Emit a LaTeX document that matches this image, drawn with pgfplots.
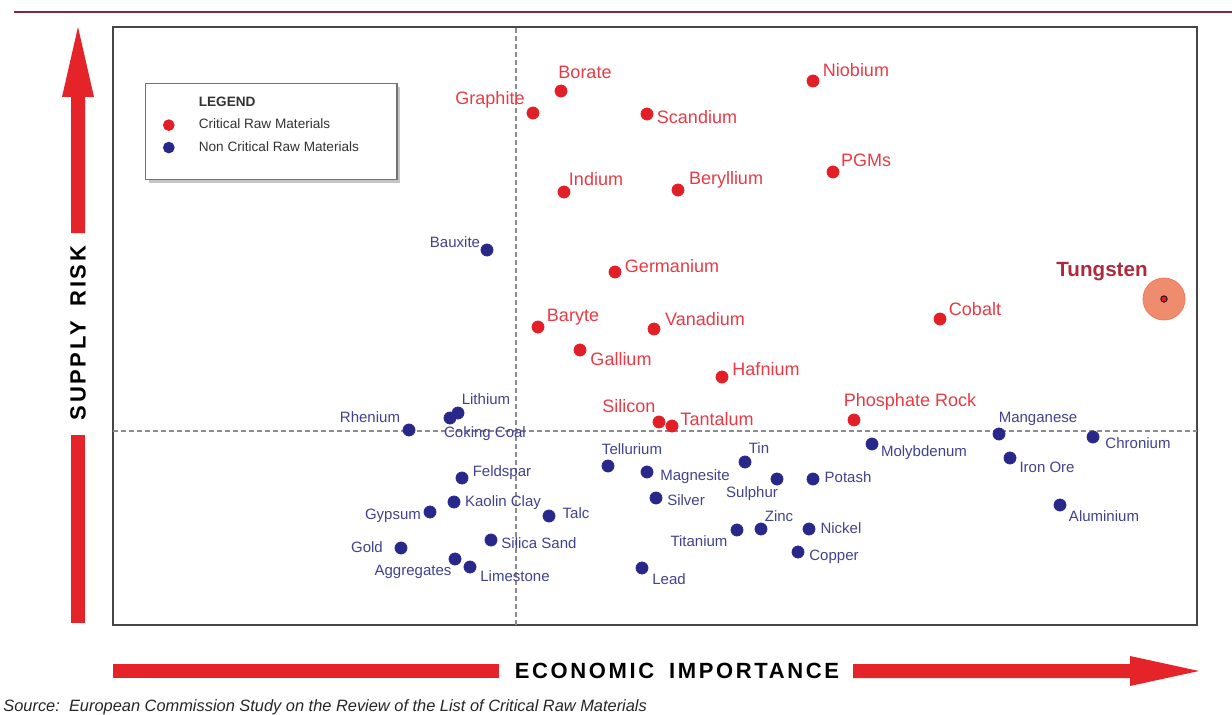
\documentclass[border=0pt]{standalone}
\usepackage{pgfplots}
\pgfplotsset{compat=1.18}
\usepackage{pgfplotstable}
\usepackage{fontspec}
\setmainfont{Liberation Sans}
\usetikzlibrary{shadows}

\definecolor{critred}{RGB}{226,30,38}
\definecolor{critlabel}{RGB}{232,58,68}
\definecolor{ncblue}{RGB}{40,40,138}
\definecolor{nclabel}{RGB}{64,66,142}
\definecolor{tungring}{RGB}{240,140,110}
\definecolor{tunglabel}{RGB}{172,42,62}
\definecolor{arrowred}{RGB}{228,36,40}
\definecolor{rulecol}{RGB}{130,40,65}
\definecolor{framecol}{RGB}{70,70,70}

% units follow the picture: x = column, y = 714 - row
% x,y = dot ; lx,ly = centre of its label
\pgfplotstableread[col sep=comma]{
name,x,y,lx,ly
Borate,561,623,585,642
Graphite,533,601,490,614
Niobium,813,633,856,644
Scandium,647,600,697,597
PGMs,833,542,866,554
Indium,564,522,596,535
Beryllium,678,524,726,534
Germanium,615,442,672,448
Cobalt,940,395,975,405
Baryte,538,387,573,397
Vanadium,654,385,705,395
Gallium,580,364,621,355
Hafnium,722,337,766,345
Silicon,659,292,629,308
Tantalum,672,288,717,295
Phosphate Rock,854,294,910,312
}\critical

\pgfplotstableread[col sep=comma]{
name,x,y,lx,ly
Bauxite,487,464,455,472
Lithium,458,301,486,315
Coking Coal,450,296,485,280
Rhenium,409,284,370,297
Feldspar,462,236,502,241
Kaolin Clay,454,212,503,211
Gypsum,430,202,393,198
Talc,549,198,576,201
Silica Sand,491,174,539,171
Gold,401,166,367,167
Aggregates,455,155,413,142
Limestone,470,147,515,138
Tellurium,608,248,632,265
Magnesite,647,242,695,237
Silver,656,216,686,214
Tin,745,252,759,266
Sulphur,777,235,752,220
Potash,813,235,848,237
Zinc,761,185,779,198
Titanium,737,184,699,173
Nickel,809,185,841,186
Copper,798,162,834,157
Lead,642,146,669,135
Molybdenum,872,270,924,261
Manganese,999,280,1038,295
Iron Ore,1010,256,1047,247
Aluminium,1060,209,1104,198
Chronium,1093,277,1138,271
}\noncritical

\begin{document}
\begin{tikzpicture}
\useasboundingbox (0,0) rectangle (616pt,357pt);

% rule across the top
\draw[rulecol, line width=0.8pt] (7pt,351pt) -- (616pt,351pt);

% supply risk arrow
\fill[arrowred] (35.5pt,45.5pt) rectangle (42.5pt,139.5pt);
\fill[arrowred] (35.5pt,240.5pt) -- (35.5pt,308.5pt) -- (31pt,308.5pt) -- (39pt,343.5pt)
  -- (47pt,308.5pt) -- (42.5pt,308.5pt) -- (42.5pt,240.5pt) -- cycle;
\node[rotate=90, font=\fontsize{11}{12}\selectfont\bfseries\addfontfeature{LetterSpace=12}]
  at (39pt,190.5pt) {SUPPLY\hspace{3pt} RISK};

% economic importance arrow
\fill[arrowred] (56.5pt,18pt) rectangle (249.5pt,25pt);
\fill[arrowred] (426.5pt,25pt) -- (565pt,25pt) -- (565pt,29pt) -- (599.5pt,21.5pt)
  -- (565pt,14pt) -- (565pt,18pt) -- (426.5pt,18pt) -- cycle;
\node[font=\fontsize{11}{12}\selectfont\bfseries\addfontfeature{LetterSpace=12}]
  at (338.5pt,21.5pt) {ECONOMIC\hspace{3pt} IMPORTANCE};

\node[anchor=base west, inner sep=0pt, font=\fontsize{8.2}{9}\selectfont\itshape, text=black!85]
  at (1.5pt,1.5pt) {Source:\ \ European Commission Study on the Review of the List of Critical Raw Materials};

\begin{axis}[
  scale only axis,
  width=542pt, height=299pt,
  at={(56.5pt,44.5pt)}, anchor=south west,
  xmin=113, xmax=1197, ymin=89, ymax=687,
  xtick=\empty, ytick=\empty,
  axis line style={framecol, line width=1pt},
  clip=false,
  legend cell align=left,
  legend image code/.code={%
    \pgfpathmoveto{\pgfqpoint{13pt}{0pt}}%
    \pgfpathlineto{\pgfqpoint{13pt}{0.1pt}}%
    \pgfusepath{discard}%
    \draw[#1, mark size=2.6pt] plot coordinates {(0pt,0pt)};},
  legend style={at={(axis cs:145,631)}, anchor=north west,
    draw=black!55, fill=white, line width=0.6pt,
    drop shadow={shadow xshift=1.5pt, shadow yshift=-1.5pt, fill=black!45},
    font=\fontsize{6.8}{8}\selectfont, text=black!80,
    inner xsep=9pt, inner ysep=4.5pt, row sep=0.8pt},
]
% quadrant lines
\addplot[forget plot, black!45, line width=0.9pt, dash pattern=on 2.5pt off 1.5pt]
  coordinates {(516,89) (516,687)};
\addplot[forget plot, black!45, line width=0.9pt, dash pattern=on 2.5pt off 1.5pt]
  coordinates {(113,283) (1197,283)};

\addlegendimage{empty legend}
\addlegendentry{\textbf{LEGEND}}

\addplot[critred, only marks, mark=*, mark size=3pt, mark options={fill=critred, draw=none}]
  table[x=x, y=y] {\critical};
\addlegendentry{Critical Raw Materials}
\addplot[ncblue, only marks, mark=*, mark size=3pt, mark options={fill=ncblue, draw=none}]
  table[x=x, y=y] {\noncritical};
\addlegendentry{Non Critical Raw Materials\hspace{8pt}\mbox{}}
\addlegendimage{empty legend}
\addlegendentry{}

% tungsten
\addplot[forget plot, only marks, mark=*, mark size=10.5pt, mark options={fill=tungring, draw=tungring!85!red}]
  coordinates {(1164,415)};
\addplot[forget plot, only marks, mark=*, mark size=1.6pt, mark options={fill=critred, draw=none}]
  coordinates {(1164,415)};
\addplot[forget plot, only marks, mark=none, nodes near coords, point meta=explicit symbolic,
  every node near coord/.append style={anchor=center, inner sep=0pt,
    font=\fontsize{10.3}{12}\selectfont\bfseries, text=tunglabel}]
  table[meta=name] {
  x y name
  1102 442 Tungsten
  };

% labels
\addplot[forget plot, only marks, mark=none, nodes near coords, point meta=explicit symbolic,
  every node near coord/.append style={anchor=center, inner sep=0pt,
    font=\fontsize{9}{10}\selectfont, text=critlabel}]
  table[x=lx, y=ly, meta=name] {\critical};
\addplot[forget plot, only marks, mark=none, nodes near coords, point meta=explicit symbolic,
  every node near coord/.append style={anchor=center, inner sep=0pt,
    font=\fontsize{7.5}{9}\selectfont, text=nclabel}]
  table[x=lx, y=ly, meta=name] {\noncritical};
\end{axis}
\end{tikzpicture}
\end{document}
